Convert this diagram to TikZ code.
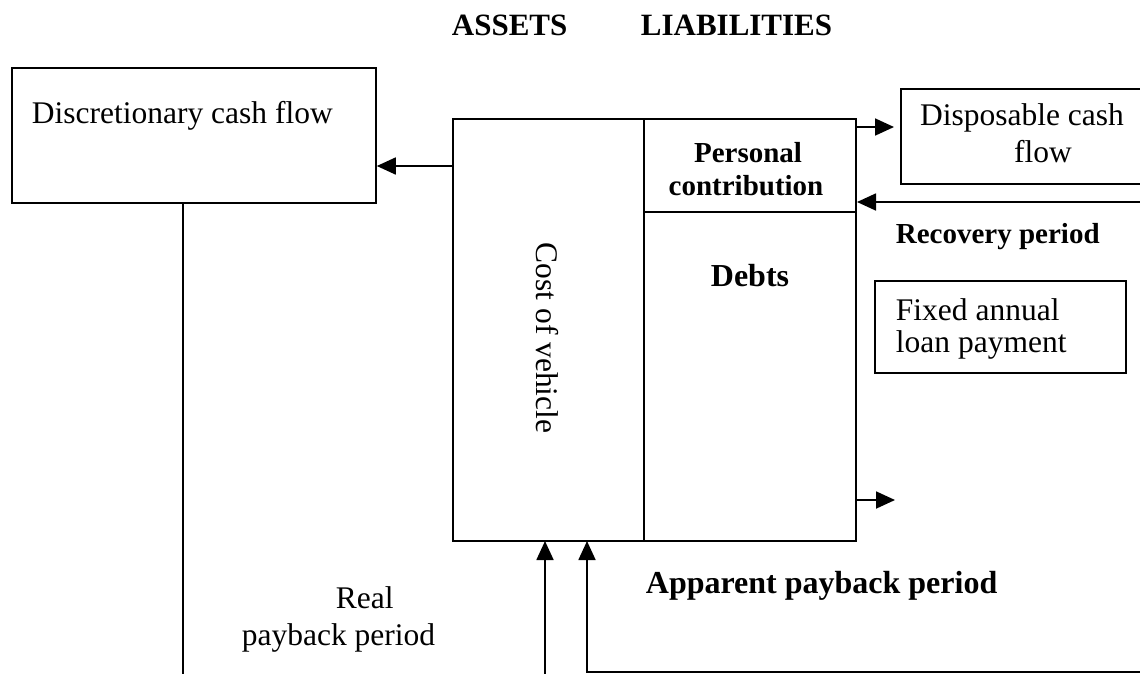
\documentclass[tikz,border=0pt]{standalone}
\usepackage{fontspec}
\setmainfont{Liberation Serif}
\usetikzlibrary{arrows.meta}
\begin{document}
\begin{tikzpicture}[x=1pt,y=-1pt, line width=1.8pt,
  box/.style={draw, inner sep=0pt, anchor=north west},
  arr/.style={-{Triangle[length=19pt,width=17pt]}},
  reg/.style={font=\fontsize{31.5}{36}\selectfont, inner sep=0pt},
  bld/.style={font=\fontsize{29}{34}\selectfont\bfseries, inner sep=0pt},
  hdr/.style={font=\fontsize{31}{36}\selectfont\bfseries, inner sep=0pt}]
\useasboundingbox (0,0) rectangle (1140,673);
% boxes
\node[box, minimum width=364pt, minimum height=135pt] (disc) at (11,67) {};
\node[box, minimum width=403pt, minimum height=422pt] (main) at (452,118) {};
\node[box, minimum width=260pt, minimum height=95pt] (disp) at (900,88) {};
\node[box, minimum width=251pt, minimum height=92pt] (fixed) at (874,280) {};
% dividers
\coordinate (dtop) at (644,118);
\coordinate (dbot) at (644,540);
\coordinate (hl) at (644,212);
\coordinate (hr) at (855,212);
\draw (dtop) -- (dbot);
\draw (hl) -- (hr);
% connectors
\coordinate (m1) at (452,166);
\draw[arr] (m1) -- (disc.east |- m1);
\coordinate (m2) at (855,127);
\coordinate (m2e) at (894,127);
\draw[arr] (m2) -- (m2e);
\coordinate (r1) at (1145,202);
\coordinate (r1e) at (857,202);
\draw[arr] (r1) -- (r1e);
\coordinate (m3) at (855,500);
\coordinate (m3e) at (895,500);
\draw[arr] (m3) -- (m3e);
\coordinate (v1) at (183,680);
\draw (disc.south -| v1) -- (v1);
\coordinate (b1) at (545,680);
\coordinate (b1e) at (545,541);
\draw[arr] (b1) -- (b1e);
\coordinate (b2) at (1150,672);
\coordinate (b2c) at (587,672);
\coordinate (b2e) at (587,541);
\draw[arr] (b2) -- (b2c) -- (b2e);
% texts
\node[hdr, anchor=base west] (tassets) at (451,35) {ASSETS};
\node[hdr, anchor=base west] (tliab) at (640,35) {LIABILITIES};
\node[reg, anchor=base west] (tdisc) at (31,123) {Discretionary cash flow};
\node[bld, anchor=base] (tpers) at (748,162) {Personal};
\node[bld, anchor=base] (tcontr) at (746,195) {contribution};
\node[bld, font=\fontsize{32}{36}\selectfont\bfseries, anchor=base] (tdebts) at (750,286) {Debts};
\node[reg, rotate=-90] (tcost) at (547,338) {Cost of vehicle};
\node[reg, anchor=base] (tdisp1) at (1022,125) {Disposable cash};
\node[reg, anchor=base] (tdisp2) at (1043,162) {flow};
\node[bld, anchor=base west] (trec) at (895,243) {Recovery period};
\node[reg, anchor=base west] (tfix1) at (895,320) {Fixed annual};
\node[reg, anchor=base west] (tfix2) at (895,352) {loan payment};
\node[bld, font=\fontsize{32}{36}\selectfont\bfseries, anchor=base west] (tapp) at (645,593) {Apparent payback period};
\node[reg, anchor=base west] (treal1) at (335,608) {Real};
\node[reg, anchor=base west] (treal2) at (241,645) {payback period};
\end{tikzpicture}
\end{document}
